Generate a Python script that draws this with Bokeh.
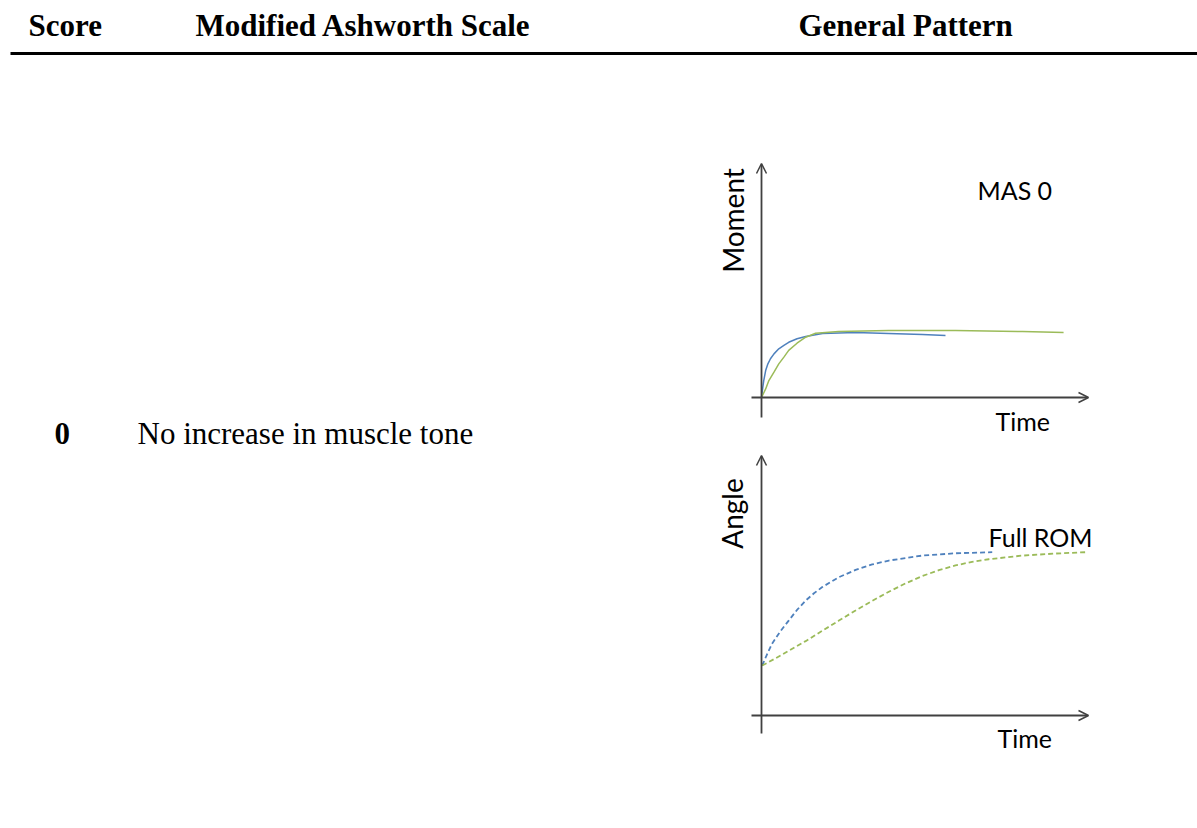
import math
from bokeh.plotting import figure
from bokeh.models import Range1d, Arrow, OpenHead
from bokeh.core.properties import value
from bokeh.embed import file_html
from bokeh.resources import INLINE

# ---------------- data ----------------
headers = ["Score", "Modified Ashworth Scale", "General Pattern"]
row_score = "0"
row_desc = "No increase in muscle tone"
moment_label = "Moment"
angle_label = "Angle"
time_label = "Time"
moment_note = "MAS 0"
angle_note = "Full ROM"

# Moment vs time (arbitrary units)
moment_blue_t = [0, 0.04, 0.07, 0.13, 0.20, 0.28, 0.39, 0.54, 0.70, 0.85, 1.11, 1.38,
                 1.91, 2.94, 3.97, 5.03, 5.75]
moment_blue_m = [0, 0.44, 0.73, 1.16, 1.45, 1.67, 1.88, 2.10, 2.25, 2.38, 2.53, 2.63,
                 2.76, 2.80, 2.76, 2.72, 2.67]
moment_green_t = [0, 0.13, 0.23, 0.39, 0.54, 0.70, 0.85, 1.11, 1.38, 1.69, 2.41, 3.97,
                  6.06, 8.16, 9.44]
moment_green_m = [0, 0.37, 0.73, 1.09, 1.45, 1.74, 2.03, 2.34, 2.60, 2.77, 2.84, 2.89,
                  2.89, 2.84, 2.80]

# Angle vs time (arbitrary units)
angle_blue_t = [0.02, 0.18, 0.33, 0.59, 0.85, 1.11, 1.38, 1.64, 1.90, 2.42, 2.94, 3.46,
                3.98, 5.02, 6.06, 7.21]
angle_blue_a = [1.92, 2.37, 2.76, 3.24, 3.65, 4.06, 4.42, 4.70, 4.94, 5.32, 5.60, 5.81,
                5.96, 6.15, 6.24, 6.28]
angle_green_t = [0.02, 0.44, 0.85, 1.38, 1.90, 2.42, 2.94, 3.46, 3.98, 4.50, 5.02, 5.54,
                 6.06, 6.58, 7.10, 8.15, 9.19, 10.13]
angle_green_a = [1.92, 2.20, 2.49, 2.86, 3.26, 3.65, 4.04, 4.41, 4.76, 5.08, 5.36, 5.59,
                 5.77, 5.91, 6.01, 6.15, 6.23, 6.28]

# ---------------- layout ----------------
W, H = 1197, 828
X0, Y0 = 0, 0                      # data coords == picture pixels
X1, Y1 = X0 + W, Y0 + H

T_ORIGIN_X, T_PPU = 761, 32.0
M_ORIGIN_Y, M_PPU = 397, 23.2
A_ORIGIN_Y, A_PPU = 715, 26.0

BLUE = "#4f81bd"
GREEN = "#9bbb59"
AXIS = "#404040"
SERIF = value("Liberation Serif")
SANS = value("Lato")

p = figure(width=W, height=H, x_range=Range1d(X0, X1), y_range=Range1d(Y1, Y0),
           output_backend="svg", toolbar_location=None, min_border=0)
p.axis.visible = False
p.grid.visible = False
p.outline_line_color = None
p.background_fill_color = "white"
p.border_fill_color = "white"

p.extra_x_ranges = {"t": Range1d((X0 - T_ORIGIN_X) / T_PPU, (X1 - T_ORIGIN_X) / T_PPU)}
p.extra_y_ranges = {
    "m": Range1d((M_ORIGIN_Y - Y1) / M_PPU, (M_ORIGIN_Y - Y0) / M_PPU),
    "a": Range1d((A_ORIGIN_Y - Y1) / A_PPU, (A_ORIGIN_Y - Y0) / A_PPU),
}

# header
p.text(x=[28, 195, 798], y=[25, 25, 25], text=headers, text_font=SERIF,
       text_font_size="31px", text_font_style="bold", text_color="black",
       text_baseline="middle", text_align="left")
p.segment(x0=[10], y0=[53], x1=[1197], y1=[53], line_color="black", line_width=3)

# row
p.text(x=[54], y=[433], text=[row_score], text_font=SERIF, text_font_size="31px",
       text_font_style="bold", text_color="black", text_baseline="middle")
p.text(x=[137], y=[433], text=[row_desc], text_font=SERIF, text_font_size="31px",
       text_color="black", text_baseline="middle")

# axes with arrows
def axis_arrow(xs, ys, xe, ye):
    p.add_layout(Arrow(end=OpenHead(size=10, line_color=AXIS, line_width=1.5),
                       x_start=xs, y_start=ys, x_end=xe, y_end=ye,
                       line_color=AXIS, line_width=1.8))

axis_arrow(761, 417, 761, 163)
axis_arrow(751, 397, 1088, 397)
axis_arrow(761, 733, 761, 455)
axis_arrow(751, 715, 1088, 715)

# curves
p.line(moment_blue_t, moment_blue_m, x_range_name="t", y_range_name="m",
       line_color=BLUE, line_width=1.5, line_join="round")
p.line(moment_green_t, moment_green_m, x_range_name="t", y_range_name="m",
       line_color=GREEN, line_width=1.5, line_join="round")
p.line(angle_blue_t, angle_blue_a, x_range_name="t", y_range_name="a",
       line_color=BLUE, line_width=1.8, line_dash="5 3", line_join="round")
p.line(angle_green_t, angle_green_a, x_range_name="t", y_range_name="a",
       line_color=GREEN, line_width=1.8, line_dash="5 3", line_join="round")

# small-plot labels
p.text(x=[977, 988], y=[189, 536], text=[moment_note, angle_note], text_font=SANS,
       text_font_size="25px", text_color="black", text_baseline="middle")
p.text(x=[995, 997], y=[420, 737], text=[time_label, time_label], text_font=SANS,
       text_font_size="25px", text_color="black", text_baseline="middle")
p.text(x=[732, 731], y=[220, 513], text=[moment_label, angle_label], text_font=SANS,
       text_font_size="28px", text_color="black", text_baseline="middle",
       text_align="center", angle=math.pi / 2)

open("out.html", "w").write(file_html(p, INLINE))
